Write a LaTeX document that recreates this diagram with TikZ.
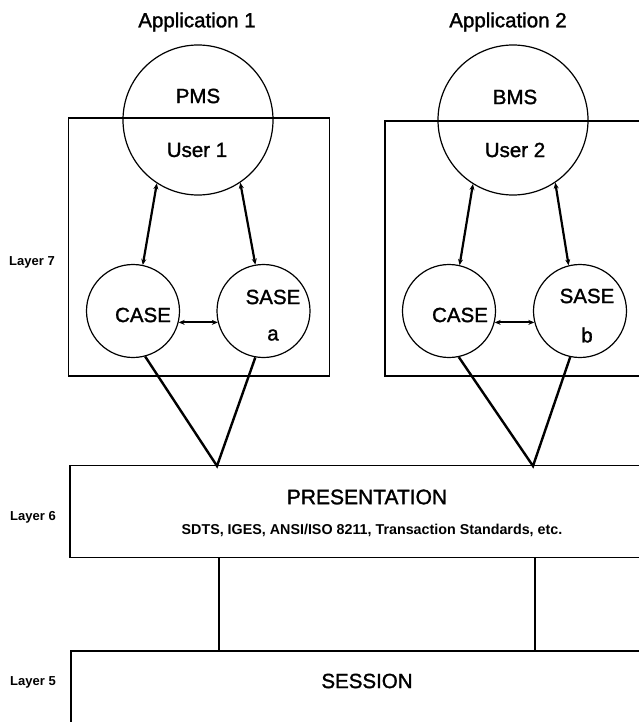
\documentclass[tikz,border=0pt]{standalone}
\usepackage{fontspec}
\setmainfont{Liberation Sans}
\newfontfamily\heavyface[FakeBold=1.4]{Liberation Sans}
\usetikzlibrary{arrows.meta}

\tikzset{
  frame/.style={draw, line width=1.2pt, rectangle, inner sep=0pt},
  bigcirc/.style={draw, line width=1.2pt, circle, minimum size=150pt, inner sep=0pt},
  smallcirc/.style={draw, line width=1.2pt, circle, minimum size=93pt, inner sep=0pt},
  lbl/.style={font=\heavyface\fontsize{20.5}{22}\selectfont, inner sep=0pt},
  layerlbl/.style={font=\bfseries\fontsize{13}{14}\selectfont, inner sep=0pt},
  stdlbl/.style={font=\bfseries\fontsize{14.3}{16}\selectfont, inner sep=0pt},
  link/.style={line width=2.4pt},
  duplex/.style={line width=2.2pt, {Stealth[length=6pt,width=5pt]}-{Stealth[length=6pt,width=5pt]}},
}

\begin{document}
\begin{tikzpicture}[x=1pt, y=-1pt]
  \clip (0,0) rectangle (639,722);
  \fill[white] (0,0) rectangle (639,722);

  % Application headings
  \node[lbl] (app1) at (197,22) {Application 1};
  \node[lbl] (app2) at (508,22) {Application 2};

  % Layer 7 frames
  \node[frame, minimum width=261pt, minimum height=258pt] (box1) at (199,247) {};
  \node[frame, minimum width=280pt, minimum height=255pt] (box2) at (525,248.5) {};

  % user agents
  \node[bigcirc] (user1) at (198,120) {};
  \node[bigcirc] (user2) at (513,120) {};
  \node[lbl] (pms) at (198,96) {PMS};
  \node[lbl] (u1)  at (197,150) {User 1};
  \node[lbl] (bms) at (515,97) {BMS};
  \node[lbl] (u2)  at (515,150) {User 2};

  % application service elements
  \node[smallcirc] (case1) at (133,311) {};
  \node[smallcirc] (sase1) at (263.5,311) {};
  \node[smallcirc] (case2) at (449,311) {};
  \node[smallcirc] (sase2) at (580,311) {};
  \node[lbl] (tcase1) at (143,315) {CASE};
  \node[lbl] (tsase1) at (273,297) {SASE};
  \node[lbl] (ta) at (273,335) {a};
  \node[lbl] (tcase2) at (460,315) {CASE};
  \node[lbl] (tsase2) at (587,296) {SASE};
  \node[lbl] (tb) at (587,335) {b};

  \node[layerlbl] (l7) at (32,262) {Layer 7};

  % lower layers
  \node[frame, minimum width=600pt, minimum height=92pt] (pres) at (370,511.5) {};
  \node[frame, minimum width=600pt, minimum height=120pt] (sess) at (371,711) {};
  \node[lbl, font=\heavyface\fontsize{21}{23}\selectfont] (tpres) at (367,497) {PRESENTATION};
  \node[stdlbl] (tstd) at (372,530) {SDTS, IGES, ANSI/ISO 8211, Transaction Standards, etc.};
  \node[lbl] (tsess) at (367,681) {SESSION};
  \node[layerlbl] (l6) at (33,517) {Layer 6};
  \node[layerlbl] (l5) at (33,682) {Layer 5};

  % connection points on the presentation and session boxes
  \coordinate (m1) at (217,466);
  \coordinate (m2) at (533,466);
  \coordinate (v1) at (219,0);
  \coordinate (v2) at (535,0);

  % user <-> service element exchanges
  \draw[duplex] (user1.237) -- (case1.78);
  \draw[duplex] (user1.304) -- (sase1.100);
  \draw[duplex] (user2.238) -- (case2.77);
  \draw[duplex] (user2.304) -- (sase2.104);
  \draw[duplex, line width=1.8pt] (case1.-14) -- (sase1.194);
  \draw[duplex, line width=1.8pt] (case2.-14) -- (sase2.194);

  % service elements down to presentation
  \draw[link] (case1.285) -- (m1) -- (sase1.260);
  \draw[link] (case2.282) -- (m2) -- (sase2.258);

  % presentation to session
  \draw[link] (pres.south -| v1) -- (sess.north -| v1);
  \draw[link] (pres.south -| v2) -- (sess.north -| v2);
\end{tikzpicture}
\end{document}
